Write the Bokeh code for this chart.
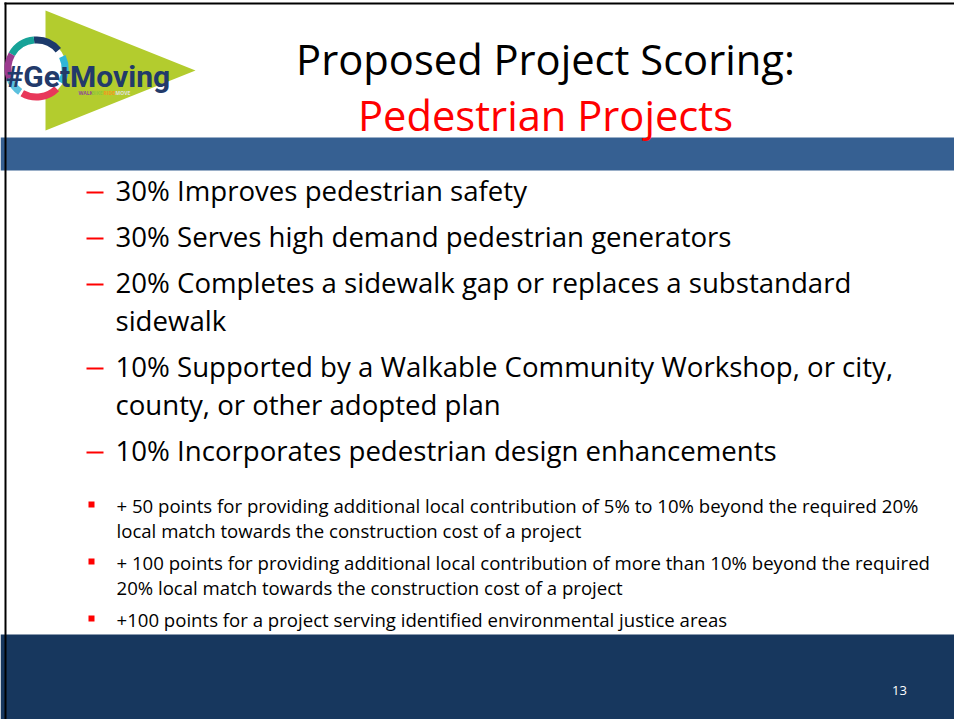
import math
from bokeh.plotting import figure
from bokeh.models import Range1d
from bokeh.core.properties import value
from bokeh.embed import file_html
from bokeh.resources import INLINE

# ---- slide content ----
title_lines = ["Proposed Project Scoring:", "Pedestrian Projects"]
title_colors = ["#000000", "#ff0000"]

main_items = [
    ["30% Improves pedestrian safety"],
    ["30% Serves high demand pedestrian generators"],
    ["20% Completes a sidewalk gap or replaces a substandard", "sidewalk"],
    ["10% Supported by a Walkable Community Workshop, or city,", "county, or other adopted plan"],
    ["10% Incorporates pedestrian design enhancements"],
]

sub_items = [
    ["+ 50 points for providing additional local contribution of 5% to 10% beyond the required 20%",
     "local match towards the construction cost of a project"],
    ["+ 100 points for providing additional local contribution of more than 10% beyond the required",
     "20% local match towards the construction cost of a project"],
    ["+100 points for a project serving identified environmental justice areas"],
]

page_number = "13"
logo_text = "#GetMoving"
logo_words = ["WALK", "BIKE", "RIDE", "MOVE"]
logo_word_colors = ["#8e4a9b", "#8dc63f", "#f7941d", "#e0e0e0"]
ring_colors = ["#e8385a", "#2fb6d8", "#1c3a6b", "#17a398", "#9b3b8f", "#5bc0de"]

# ---- styling ----
FONT = "Open Sans"
RED = "#ff0000"
BAND = "#366092"
FOOTER = "#17375e"
NAVY = "#223a6a"
LIME = "#b3cc2e"
SHIFT = 0.41  # baseline correction (fraction of font size)

W, H = 954, 719
p = figure(width=W, height=H, x_range=Range1d(0, W), y_range=Range1d(H, 0),
           output_backend="svg", toolbar_location=None, min_border=0)
p.axis.visible = False
p.grid.visible = False
p.outline_line_color = None
p.background_fill_color = "white"
p.border_fill_color = "white"


def base(y, size):
    return y - SHIFT * size


# bands
p.quad(left=[0], right=[W], top=[137], bottom=[170], color=BAND, line_color=None)
p.quad(left=[0], right=[W], top=[634], bottom=[H], color=FOOTER, line_color=None)

# border
p.segment(x0=[5], y0=[2], x1=[5], y1=[H], line_color="black", line_width=2)
p.segment(x0=[4], y0=[3], x1=[W], y1=[3], line_color="black", line_width=2)

# logo
p.patch(x=[45, 195, 45], y=[10, 70, 130], color=LIME, line_color=None)
p.circle(x=[36], y=[68], radius=30, color="white", line_color=None)
n = len(ring_colors)
starts = [math.radians(a) for a in (-120, -30, 40, 95, 150, 200)]
ends = [math.radians(a) for a in (-45, 25, 95, 150, 200, 235)]
p.annular_wedge(x=[36] * n, y=[68] * n, inner_radius=25, outer_radius=32,
                start_angle=starts, end_angle=ends, color=ring_colors, line_color=None)
LS = 30
p.text(x=[5], y=[base(88, LS)], text=[logo_text], text_color=NAVY,
       text_font=value("Roboto"),
       text_font_style="bold", text_font_size=f"{LS}px", text_align="left", text_baseline="alphabetic")
wx = [78, 91, 103, 115]
p.text(x=wx, y=[base(95, 5)] * 4, text=logo_words, text_color=logo_word_colors,
       text_font=value(FONT), text_font_size="5px", text_font_style="bold",
       text_align="left", text_baseline="alphabetic")

# title
TS = 41.7
p.text(x=[545, 545], y=[base(75, TS), base(131, TS)], text=title_lines, text_color=title_colors,
       text_font=value(FONT), text_font_size=f"{TS}px", text_align="center", text_baseline="alphabetic")

# main bullets
MS = 27.6
mx, my, mt = [], [], []
dash_y = []
y = 201
for item in main_items:
    dash_y.append(y - 9)
    for k, line in enumerate(item):
        mx.append(115)
        my.append(base(y + 38 * k, MS))
        mt.append(line)
    y += 46 + 38 * (len(item) - 1)
p.text(x=mx, y=my, text=mt, text_color="black", text_font=value(FONT),
       text_font_size=f"{MS}px", text_align="left", text_baseline="alphabetic")
p.segment(x0=[86] * len(dash_y), y0=dash_y, x1=[103] * len(dash_y), y1=dash_y,
          line_color=RED, line_width=2)

# sub bullets
SS = 18.6
sx, sy, st = [], [], []
sq_y = []
y = 513
for item in sub_items:
    sq_y.append(y - 9)
    for k, line in enumerate(item):
        sx.append(116)
        sy.append(base(y + 25 * k, SS))
        st.append(line)
    y += 32 + 25 * (len(item) - 1)
p.text(x=sx, y=sy, text=st, text_color="black", text_font=value(FONT),
       text_font_size=f"{SS}px", text_align="left", text_baseline="alphabetic")
p.scatter(x=[91] * len(sq_y), y=sq_y, marker="square", size=6, color=RED, line_color=None)

# page number
PS = 13
p.text(x=[899], y=[base(695, PS)], text=[page_number], text_color="white", text_font=value(FONT),
       text_font_size=f"{PS}px", text_align="center", text_baseline="alphabetic")

open("out.html", "w").write(file_html(p, INLINE))
